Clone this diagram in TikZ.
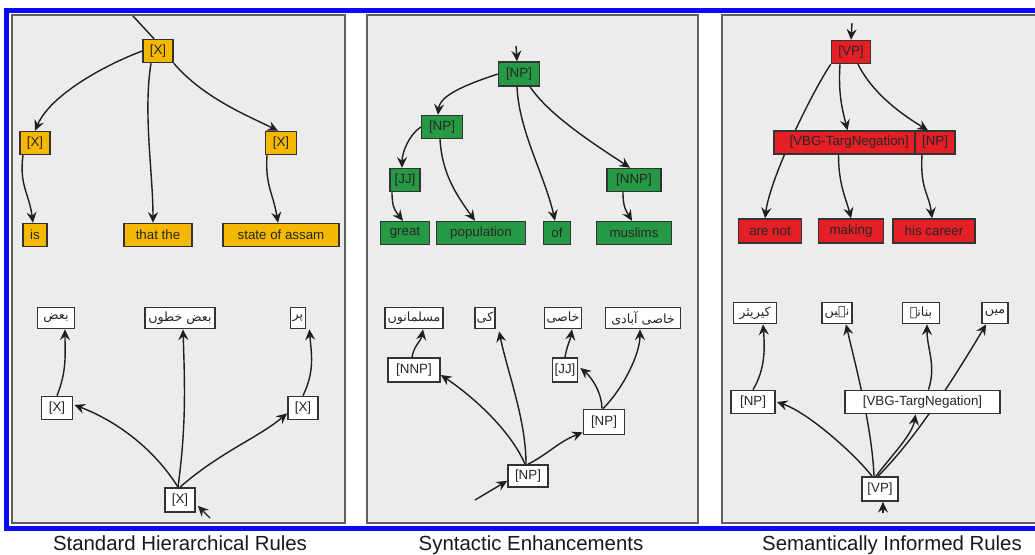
\documentclass[tikz,border=0pt]{standalone}
\usepackage{fontspec}
\setmainfont{Liberation Sans}
\newfontfamily\urdu[Script=Arabic]{DejaVu Sans}
\TeXXeTstate=1
\usetikzlibrary{arrows.meta,calc}
\definecolor{orng}{RGB}{245,184,0}
\definecolor{grn}{RGB}{38,153,68}
\definecolor{rd}{RGB}{228,32,38}
\definecolor{panelbg}{RGB}{236,236,236}
\definecolor{panelbd}{RGB}{95,95,95}
\definecolor{frameblue}{RGB}{10,10,245}
\tikzset{
  bw/.style={minimum width=#1*0.75pt},
  bh/.style={minimum height=#1*0.75pt},
  boxbase/.style={draw=black!80, line width=1.1pt, inner sep=0pt, minimum height=17pt, font=\fontsize{10}{12}\selectfont, text=black!85},
  ob/.style={boxbase, fill=orng},
  gb/.style={boxbase, fill=grn},
  rb/.style={boxbase, fill=rd},
  wb/.style={boxbase, fill=white, line width=1.3pt},
  ub/.style={wb, minimum height=15.75pt, inner xsep=1.5pt, font=\urdu\fontsize{9.5}{11}\selectfont},
  arr/.style={-{Stealth[length=8pt,width=7.5pt,inset=2.8pt]}, line width=1.05pt, draw=black!88},
  ln/.style={line width=1.05pt, draw=black!88},
  panelbox/.style={fill=panelbg, draw=panelbd, line width=0.8pt},
  captxt/.style={font=\fontsize{15.3}{18}\selectfont, anchor=base, text=black!90},
}
\begin{document}
\begin{tikzpicture}[x=0.75pt,y=-0.75pt]
\useasboundingbox (0,0) rectangle (1035,554);
\fill[white] (0,0) rectangle (1035,554);
% frame and panels
\draw[frameblue, line width=3.75pt] (6.5,10) rectangle (1050,528);
\draw[panelbox] (12,15) rectangle (345,523);
\draw[panelbox] (367,15) rectangle (698,523);
\draw[panelbox] (722,15) rectangle (1060,523);

% ---------- Panel 1 top ----------
\node[ob,bw=30,bh=23] (X0) at (158,51) {[X]};
\node[ob,bw=30,bh=23] (X1) at (35,143) {[X]};
\node[ob,bw=31,bh=23] (X2) at (281,143) {[X]};
\node[ob,bw=24,bh=23] (is) at (35,235) {is};
\node[ob,bw=68,bh=23] (that) at (158,235) {that the};
\node[ob,bw=116,bh=23] (state) at (281,235) {state of assam};
\coordinate (in1) at (133,16);
\draw[ln] (in1) -- ($(X0.north)+(-4,0)$);
\draw[arr] (X0.west) .. controls +(-40,15) and +(15,-35) .. (X1.north);
\draw[arr] ($(X0.south)+(-7,0)$) .. controls +(-8,50) and +(0,-50) .. ($(that.north)+(-5,0)$);
\draw[arr] (X0.south east) .. controls +(30,35) and +(-30,-15) .. ($(X2.north)+(-3,0)$);
\draw[arr] ($(X1.south)+(-12,0)$) .. controls +(-4,30) and +(-4,-30) .. ($(is.north)+(-2,0)$);
\draw[arr] ($(X2.south)+(-14,0)$) .. controls +(-2,30) and +(-5,-30) .. ($(state.north)+(-3,0)$);

% ---------- Panel 1 bottom ----------
\node[ub,bw=37] (u1) at (56,318) {\beginR بعض\endR};
\node[ub,bw=70] (u2) at (180,318) {\beginR بعض خطوں\endR};
\node[ub,bw=15] (u3) at (298,318) {\beginR پر\endR};
\node[wb,bw=31,bh=23] (Xl) at (57,408) {[X]};
\node[wb,bw=30,bh=23] (Xr) at (303,408) {[X]};
\node[wb,bw=30,bh=24] (Xb) at (180,500) {[X]};
\draw[arr] ($(Xb.north)+(-2,0)$) .. controls +(-25,-40) and +(40,15) .. ($(Xl.east)+(1,-3)$);
\draw[arr] ($(Xb.north)+(-2,0)$) .. controls +(8,-60) and +(2,60) .. ($(u2.south)+(3,0)$);
\draw[arr] (Xb.north) .. controls +(40,-35) and +(-30,25) .. ($(Xr.south west)+(0,-7)$);
\draw[arr] (Xl.north) .. controls +(10,-25) and +(0,25) .. ($(u1.south)+(9,0)$);
\draw[arr] (Xr.north) .. controls +(12,-25) and +(2,25) .. ($(u3.south east)+(3,0)$);
\coordinate (in2) at (210,518);
\draw[arr] (in2) -- ($(Xb.south east)+(2,-7)$);

% ---------- Panel 2 top ----------
\node[gb,bw=41,bh=24] (NPa) at (519,74) {[NP]};
\node[gb,bw=41,bh=23] (NPb1) at (442,127) {[NP]};
\node[gb,bw=30,bh=23] (JJa) at (405,180) {[JJ]};
\node[gb,bw=54,bh=23] (NNPa) at (634,180) {[NNP]};
\node[gb,bw=49,bh=23] (great) at (405,233) {great};
\node[gb,bw=89,bh=23] (pop) at (481,233) {population};
\node[gb,bw=27,bh=23] (of) at (557,233) {of};
\node[gb,bw=75,bh=23] (mus) at (634,233) {muslims};
\coordinate (in3) at (516,46);
\draw[arr] (in3) -- ($(NPa.north)+(-2,0)$);
\draw[arr] (NPa.west) .. controls +(-30,10) and +(2,-20) .. ($(NPb1.north)+(-4,0)$);
\draw[arr] ($(NPa.south)+(-2,0)$) .. controls +(2,45) and +(-10,-45) .. ($(of.north)+(-2,0)$);
\draw[arr] ($(NPa.south)+(11,0)$) .. controls +(20,30) and +(-30,-20) .. ($(NNPa.north)+(-4,0)$);
\draw[arr] (NPb1.west) .. controls +(-12,8) and +(0,-15) .. ($(JJa.north)+(-3,0)$);
\draw[arr] ($(NPb1.south)+(-2,0)$) .. controls +(2,35) and +(-18,-25) .. ($(pop.north)+(-6,0)$);
\draw[arr] ($(JJa.south)+(-13,0)$) .. controls +(0,15) and +(-8,-10) .. ($(great.north)+(-2,0)$);
\draw[arr] ($(NNPa.south)+(-11,0)$) .. controls +(0,15) and +(-6,-10) .. ($(mus.north)+(-2,0)$);

% ---------- Panel 2 bottom ----------
\node[ub,bw=58] (v1) at (414,318) {\beginR مسلمانوں\endR};
\node[ub,bw=16] (v2) at (485,318) {\beginR کی\endR};
\node[ub,bw=37] (v3) at (563,318) {\beginR خاصی\endR};
\node[ub,bw=75] (v4) at (643,318) {\beginR خاصی آبادی\endR};
\node[wb,bw=52,bh=24] (NNPb) at (414,370) {[NNP]};
\node[wb,bw=25,bh=24] (JJb) at (565,370) {[JJ]};
\node[wb,bw=41,bh=25] (NPm) at (604,422) {[NP]};
\node[wb,bw=40,bh=22] (NPc2) at (528,476) {[NP]};
\coordinate (in4) at (475,500);
\draw[arr] (in4) -- ($(NPc2.south west)+(0,-7)$);
\draw[arr] ($(NPc2.north)+(-3,0)$) .. controls +(-15,-35) and +(30,20) .. ($(NNPb.east)+(0,5)$);
\draw[arr] ($(NPc2.north)+(-2,0)$) .. controls +(0,-45) and +(8,40) .. ($(v2.south east)+(3,2)$);
\draw[arr] (NPc2.north) .. controls +(20,-10) and +(-25,10) .. ($(NPm.south west)+(0,-3)$);
\draw[arr] ($(NPm.north)+(-2,0)$) .. controls +(0,-15) and +(12,10) .. ($(JJb.east)+(2,-2)$);
\draw[arr] ($(NPm.north)+(-1,0)$) .. controls +(20,-20) and +(0,25) .. ($(v4.south)+(-3,0)$);
\draw[arr] (JJb.north) .. controls +(2,-12) and +(-2,12) .. ($(v3.south)+(9,0)$);
\draw[arr] ($(NNPb.north)+(-2,0)$) .. controls +(2,-12) and +(-2,12) .. ($(v1.south)+(9,0)$);

% ---------- Panel 3 top ----------
\node[rb,bw=39,bh=23] (VP) at (851,52) {[VP]};
\node[rb,bw=63,bh=24] (arenot) at (770,231) {are not};
\node[rb,bw=65,bh=24] (making) at (851,231) {making};
\node[rb,bw=82,bh=24] (hisc) at (934,231) {his career};
\draw[arr] (VP.south west) .. controls +(-20,30) and +(5,-40) .. ($(arenot.north)+(-5,0)$);
\node[rb,bw=141,bh=23] (VBG) at (844.5,142.5) {\hspace*{7pt}[VBG-TargNegation]};
\node[rb,bw=40,bh=23] (NPr) at (935,142.5) {[NP]};
\coordinate (in5) at (852,23);
\draw[arr] (in5) -- (VP.north);
\draw[arr] ($(VP.south)+(-11,0)$) .. controls +(-2,30) and +(-5,-20) .. ($(VBG.north)+(3,0)$);
\draw[arr] ($(VP.south)+(7,0)$) .. controls +(15,30) and +(-25,-15) .. ($(NPr.north)+(-7,0)$);
\draw[arr] ($(VBG.south)+(-6,0)$) .. controls +(0,30) and +(-5,-20) .. (making.north);
\draw[arr] ($(NPr.south)+(-13,0)$) .. controls +(-2,35) and +(-3,-25) .. ($(hisc.north)+(-2,0)$);

% ---------- Panel 3 bottom ----------
\node[ub,bw=43] (w1) at (755,313) {\beginR کیریئر\endR};
\node[ub,bw=30] (w2) at (837,313) {\beginR نہیں\endR};
\node[ub,bw=37] (w3) at (921,313) {\beginR بنانے\endR};
\node[ub,bw=26] (w4) at (995,313) {\beginR میں\endR};
\node[wb,bw=44,bh=23] (NPd) at (753,402) {[NP]};
\node[wb,bw=36,bh=24] (VPd) at (880,489) {[VP]};
\draw[arr] ($(VPd.north)+(-6,0)$) .. controls +(-2,-50) and +(8,35) .. ($(w2.south)+(9,0)$);
\draw[arr] ($(VPd.north)+(-2,0)$) .. controls +(40,-40) and +(-30,50) .. ($(w4.south west)+(5,0)$);
\node[wb,bw=155,bh=23] (VBGd) at (922.5,402) {[VBG-TargNegation]};
\draw[arr] ($(VPd.north)+(-8,0)$) .. controls +(-20,-25) and +(30,10) .. ($(NPd.east)+(1,0)$);
\draw[arr] ($(VPd.north)+(-4,0)$) .. controls +(15,-20) and +(-3,20) .. ($(VBGd.south)+(-7,0)$);
\draw[arr] ($(VBGd.north)+(6,0)$) .. controls +(8,-25) and +(0,25) .. ($(w3.south)+(6,0)$);
\draw[arr] (NPd.north) .. controls +(12,-20) and +(2,25) .. ($(w1.south)+(8,0)$);
\coordinate (in6) at (883,513);
\draw[arr] (in6) -- ($(VPd.south)+(3,0)$);

% ---------- Captions ----------
\node[captxt] (c1) at (180,550) {Standard Hierarchical Rules};
\node[captxt] (c2) at (531,550) {Syntactic Enhancements};
\node[captxt] (c3) at (892,550) {Semantically Informed Rules};
\end{tikzpicture}
\end{document}
